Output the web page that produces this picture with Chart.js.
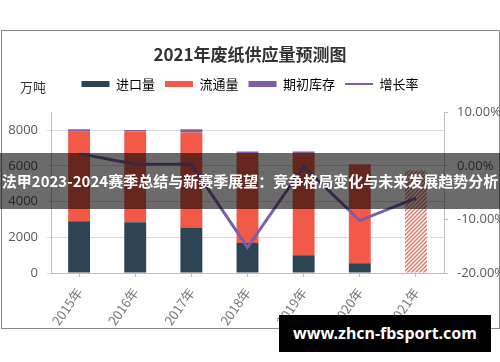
<!DOCTYPE html>
<html>
<head>
<meta charset="utf-8">
<script src="https://cdn.jsdelivr.net/npm/chart.js@4"></script>
<style>
  html, body { margin: 0; padding: 0; background: #fff; }
  body { width: 500px; height: 362px; position: relative; overflow: hidden; font-family: "Noto Sans CJK SC", "Noto Sans", sans-serif; }
  #frame { position: absolute; left: 1px; top: 30px; width: 497px; height: 297px; border: 1.5px solid #8a8a8a; box-sizing: content-box; }
  #wrap { position: absolute; left: 0; top: 0; width: 500px; height: 362px; }
  #banner { position: absolute; left: 0; top: 153px; width: 500px; height: 56px; background: rgba(0,0,0,0.58); color: #fff; font: bold 15px "Noto Sans CJK SC", sans-serif; line-height: 56px; text-align: center; white-space: nowrap; overflow: visible; }
  #mark { position: absolute; left: 279px; top: 315px; width: 212px; height: 37px; background: #000; color: #fff; font: bold 16px "Noto Sans", "Open Sans", sans-serif; line-height: 37px; text-align: center; white-space: nowrap; }
</style>
</head>
<body>
<div id="frame"></div>
<div id="wrap"><canvas id="c" width="500" height="362"></canvas></div>
<div id="banner">法甲2023-2024赛季总结与新赛季展望：竞争格局变化与未来发展趋势分析</div>
<div id="mark">www.zhcn-fbsport.com</div>
<script>
// ---- data ----
const categories = ['2015年', '2016年', '2017年', '2018年', '2019年', '2020年', '2021年'];
const importVolume = [2900, 2850, 2550, 1680, 1000, 550, 0];
const circulationVolume = [5020, 5080, 5320, 5040, 5720, 5520, 5730];
const openingInventory = [130, 80, 190, 90, 90, 30, 0];
const growthRate = [2.3, 0.3, 0.3, -15.2, -0.1, -10.2, -6.0];
const leftTicks = [0, 2000, 4000, 6000, 8000];
const rightTicks = [-20, -10, 0, 10];
const forecastIndex = 6;

// hatched pattern for the forecast bar
function hatch() {
  const p = document.createElement('canvas');
  p.width = 4; p.height = 4;
  const g = p.getContext('2d');
  g.fillStyle = '#ffffff';
  g.fillRect(0, 0, 4, 4);
  g.strokeStyle = '#ee6f60';
  g.lineWidth = 1.3;
  g.beginPath();
  g.moveTo(-1, 5); g.lineTo(5, -1);
  g.moveTo(-1, 1); g.lineTo(1, -1);
  g.moveTo(3, 5); g.lineTo(5, 3);
  g.stroke();
  return g.createPattern(p, 'repeat');
}
const ctx = document.getElementById('c').getContext('2d');
const pat = hatch();
const redColors = categories.map((c, i) => i === forecastIndex ? pat : '#f25a47');

const COL_DARK = '#2e4353', COL_RED = '#f25a47', COL_PURPLE = '#7e5ea8';

const unitPlugin = {
  id: 'unit',
  afterInit(chart) {
    const lg = chart.legend;
    if (lg) {
      const fit = lg.fit;
      lg.fit = function () { fit.call(this); this.height += 12; };
    }
  },
  afterDraw(chart) {
    const c = chart.ctx;
    c.save();
    c.font = '13px "Noto Sans CJK SC", sans-serif';
    c.fillStyle = '#333';
    c.textAlign = 'left';
    c.textBaseline = 'middle';
    c.fillText('万吨', 20, 87);
    c.restore();
  }
};

new Chart(ctx, {
  data: {
    labels: categories,
    datasets: [
      { type: 'line', label: '增长率', data: growthRate, yAxisID: 'y2', borderColor: COL_PURPLE, backgroundColor: COL_PURPLE, borderWidth: 3, pointRadius: 0, tension: 0, order: 0 },
      { type: 'bar', label: '进口量', data: importVolume, yAxisID: 'y', backgroundColor: COL_DARK, stack: 's', order: 1 },
      { type: 'bar', label: '流通量', data: circulationVolume, yAxisID: 'y', backgroundColor: redColors, stack: 's', order: 1 },
      { type: 'bar', label: '期初库存', data: openingInventory, yAxisID: 'y', backgroundColor: COL_PURPLE, stack: 's', order: 1 }
    ]
  },
  options: {
    responsive: false,
    animation: false,
    devicePixelRatio: 1,
    layout: { padding: { left: 0, right: 0, top: 30, bottom: 0 } },
    datasets: { bar: { barPercentage: 0.78, categoryPercentage: 0.5 } },
    plugins: {
      title: {
        display: true,
        text: '2021年废纸供应量预测图',
        color: '#333',
        font: { family: '"Noto Sans CJK SC", sans-serif', size: 17, weight: 'bold' },
        padding: { top: 14, bottom: 3 }
      },
      legend: {
        display: true,
        labels: {
          usePointStyle: true,
          pointStyleWidth: 28,
          boxHeight: 6,
          padding: 10,
          color: '#777',
          font: { family: '"Noto Sans CJK SC", sans-serif', size: 13 },
          generateLabels(chart) {
            const order = [1, 2, 3, 0];
            const cols = [COL_PURPLE, COL_DARK, COL_RED, COL_PURPLE];
            return order.map(i => ({
              text: chart.data.datasets[i].label,
              fillStyle: cols[i],
              strokeStyle: cols[i],
              lineWidth: i === 0 ? 2 : 0,
              pointStyle: i === 0 ? 'line' : 'rect',
              datasetIndex: i,
              hidden: false
            }));
          }
        }
      },
      tooltip: { enabled: false }
    },
    scales: {
      x: {
        stacked: true,
        offset: true,
        grid: { display: true, drawOnChartArea: false, offset: false, tickLength: 4, color: '#bfbfbf' },
        border: { color: '#bfbfbf' },
        ticks: { color: '#777', font: { family: '"Noto Sans CJK SC", sans-serif', size: 13 }, minRotation: 55, maxRotation: 55, padding: 8 },
        afterFit(s) { s.height = 89; }
      },
      y: {
        position: 'left',
        stacked: true,
        min: 0, max: 9000,
        grid: { color: '#d9d9d9', tickLength: 4 },
        border: { color: '#bfbfbf' },
        ticks: { color: '#595959', font: { family: '"Open Sans", sans-serif', size: 13 }, padding: 9, callback: v => String(v) },
        afterBuildTicks(s) { s.ticks = leftTicks.map(v => ({ value: v })); },
        afterFit(s) { s.width = 51; }
      },
      y2: {
        position: 'right',
        min: -20, max: 10,
        grid: { drawOnChartArea: false, tickLength: 4, color: '#bfbfbf' },
        border: { color: '#bfbfbf' },
        ticks: { color: '#595959', font: { family: '"Open Sans", sans-serif', size: 13 }, padding: 9, callback: v => v.toFixed(2) + '%' },
        afterBuildTicks(s) { s.ticks = rightTicks.map(v => ({ value: v })); },
        afterFit(s) { s.width = 56; }
      }
    }
  },
  plugins: [unitPlugin]
});
</script>
</body>
</html>
